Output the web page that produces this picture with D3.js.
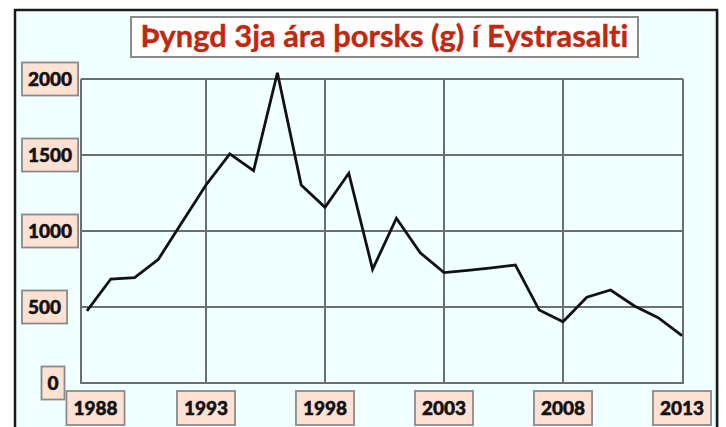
<!DOCTYPE html>
<html><head><meta charset="utf-8">
<script src="https://cdn.jsdelivr.net/npm/d3@7"></script>
<style>html,body{margin:0;padding:0;background:#fff;}svg{display:block;}text{font-variant-ligatures:none;}</style>
</head><body>
<script>
const title = "Þyngd 3ja ára þorsks (g) í Eystrasalti";
const years = [1988,1989,1990,1991,1992,1993,1994,1995,1996,1997,1998,1999,2000,2001,2002,2003,2004,2005,2006,2007,2008,2009,2010,2011,2012,2013];
const weights = [474,684,693,814,1060,1303,1507,1397,2041,1303,1156,1380,748,1084,857,726,741,758,776,480,403,564,612,507,430,311];
const xTicks = [1988,1993,1998,2003,2008,2013];
const yTicks = [0,500,1000,1500,2000];

const W = 726, H = 427;
const svg = d3.select("body").append("svg").attr("width", W).attr("height", H);
const FONT = "Lato, 'Open Sans', sans-serif";

// outer panel
svg.append("rect").attr("x",17).attr("y",12).attr("width",702).attr("height",440).attr("fill","#cfcfcf");
svg.append("rect").attr("x",15).attr("y",10).attr("width",702).attr("height",440)
  .attr("fill","#f0ffff").attr("stroke","#1a1a1a").attr("stroke-width",2.5);

const plotL = 81, plotR = 683, plotT = 79, plotB = 383;
const x = d3.scaleLinear().domain([1988,2013]).range([87,682]);
const y = d3.scaleLinear().domain([0,2000]).range([plotB, plotT]);

// grid
const gridColor = "#6b6f6f";
svg.append("g").selectAll("line").data(yTicks.filter(d=>d>0)).join("line")
  .attr("x1",plotL).attr("x2",plotR).attr("y1",d=>y(d)).attr("y2",d=>y(d))
  .attr("stroke",gridColor).attr("stroke-width",2);
svg.append("g").selectAll("line").data(xTicks.slice(1,-1)).join("line")
  .attr("x1",d=>x(d)).attr("x2",d=>x(d)).attr("y1",plotT).attr("y2",plotB)
  .attr("stroke",gridColor).attr("stroke-width",2);
svg.append("path")
  .attr("d",`M${plotL},${plotT}V${plotB}H${plotR}V${plotT}`)
  .attr("fill","none").attr("stroke",gridColor).attr("stroke-width",2);

// line
const line = d3.line().x((d,i)=>x(years[i])).y(d=>y(d));
svg.append("path").datum(weights).attr("d",line)
  .attr("fill","none").attr("stroke","#111").attr("stroke-width",2.8).attr("stroke-linejoin","miter");

// title
const tg = svg.append("g");
tg.append("rect").attr("x",131).attr("y",17).attr("width",507).attr("height",40)
  .attr("fill","#fff").attr("stroke","#8a8a8a").attr("stroke-width",2);
const tt = tg.append("text").attr("x",384.5).attr("y",46.5).attr("text-anchor","middle")
  .attr("font-family",FONT).attr("font-weight",700).attr("font-size",24)
  .attr("fill","#c0280f").attr("stroke","#c0280f").attr("stroke-width",0.4).text(title);
const tw = tt.node().getComputedTextLength();
tt.attr("font-size", 24*488/tw);

// labels
function box(g, cx, cy, txt, fs, padX, h, anchorLeft) {
  const t = g.append("text").attr("font-family",FONT).attr("font-weight",900)
    .attr("font-size",fs).attr("fill","#111").attr("stroke","#111").attr("stroke-width",0.5).text(txt);
  const w = t.node().getComputedTextLength() + 2*padX;
  const left = anchorLeft !== undefined ? anchorLeft : cx - w/2;
  g.insert("rect","text").attr("x",left).attr("y",cy-h/2).attr("width",w).attr("height",h)
    .attr("fill","#fde1d3").attr("stroke","#8a8a8a").attr("stroke-width",1.8);
  t.attr("x",left+w/2).attr("y",cy+fs*0.36).attr("text-anchor","middle");
}
const yl = svg.append("g");
yTicks.forEach(v=>{
  const g = yl.append("g");
  if (v===0) box(g, 53, y(v), String(v), 19, 6, 33);
  else box(g, 0, y(v), String(v), 19, 6, 33, 22);
});
const xl = svg.append("g");
xTicks.forEach((v,i)=>{
  const g = xl.append("g");
  const cx = i===0 ? x(v)+8.5 : x(v);
  box(g, cx, 408, String(v), 19, 7, 34);
});
</script>
</body></html>
